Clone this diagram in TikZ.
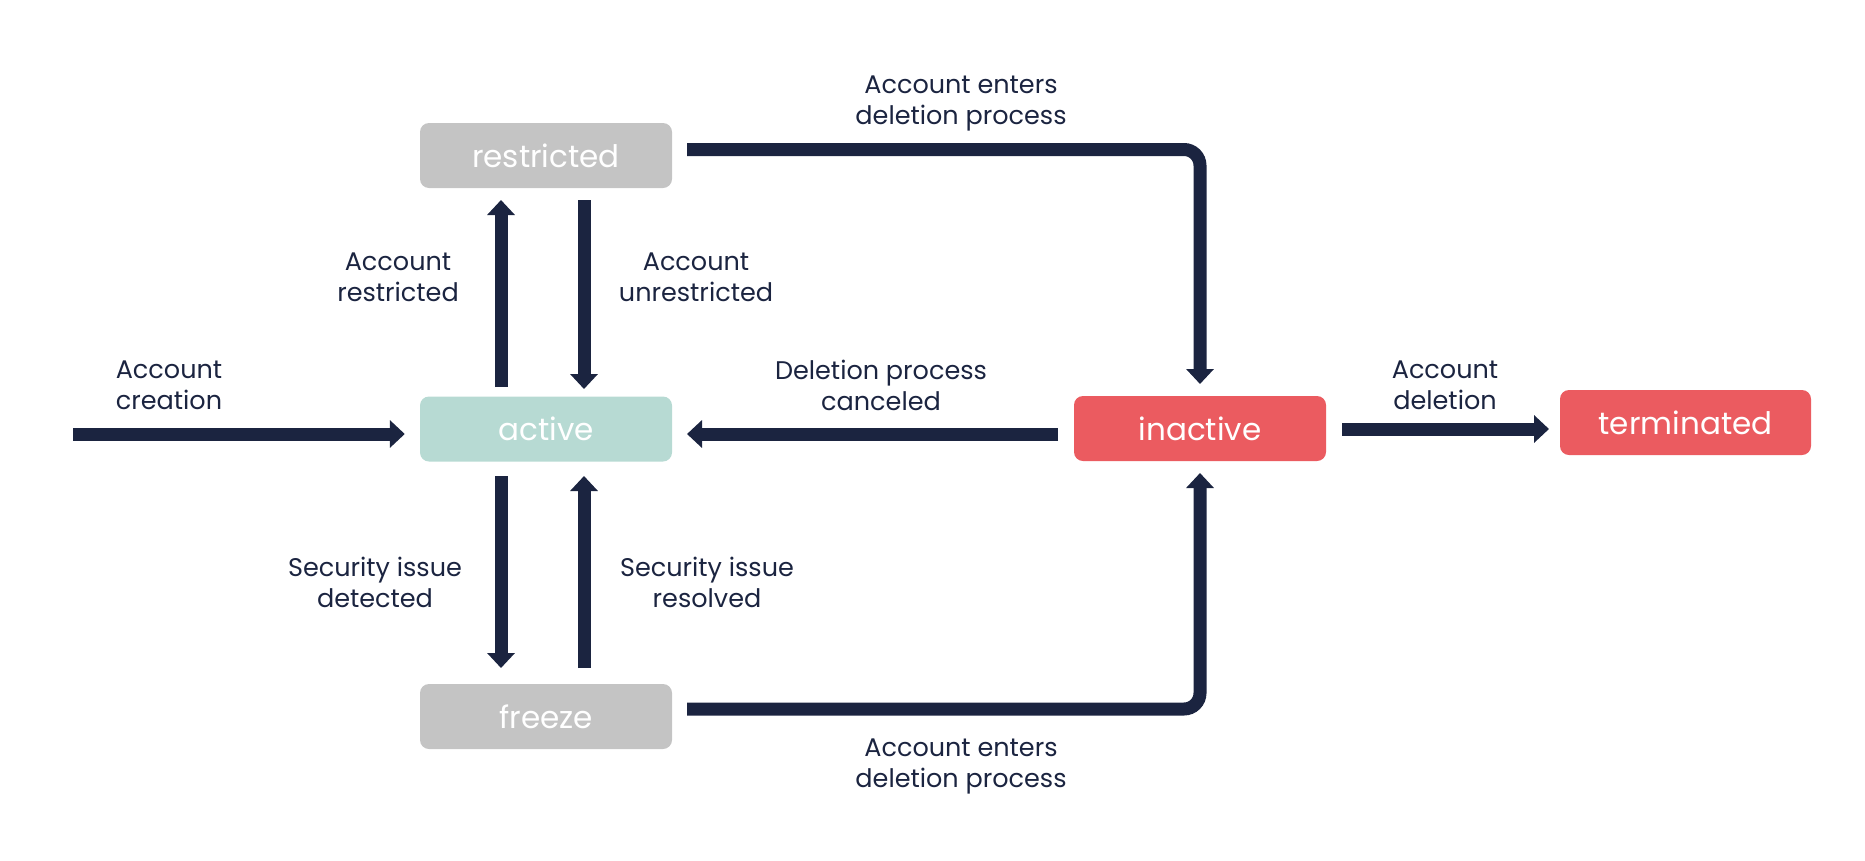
\documentclass[tikz,border=0pt]{standalone}
\usepackage{fontspec}
\setmainfont{Poppins}
\usetikzlibrary{arrows.meta}
\definecolor{navy}{HTML}{1B2440}
\definecolor{greybox}{HTML}{C4C4C4}
\definecolor{tealbox}{HTML}{B7DAD3}
\definecolor{redbox}{HTML}{EB5B60}
\tikzset{
  statebox/.style={rounded corners=9pt, minimum width=252pt, minimum height=65pt, inner sep=0pt, text=white, font=\fontsize{31}{34}\selectfont},
  lbl/.style={text=navy, align=center, font=\fontsize{25.5}{31}\selectfont, inner sep=0pt},
  conn/.style={draw=navy, line width=13pt, -{Triangle[width=27pt,length=15pt]}},
}
\begin{document}
\begin{tikzpicture}[x=1pt,y=-1pt]
\useasboundingbox (0,0) rectangle (1865,860);
\node[statebox, fill=greybox] (restricted) at (546,155.5) {restricted};
\node[statebox, fill=tealbox] (active) at (546,429) {active};
\node[statebox, fill=greybox] (freeze) at (546,716.5) {freeze};
\node[statebox, fill=redbox] (inactive) at (1200,428.5) {inactive};
\node[statebox, fill=redbox, minimum width=251pt] (terminated) at (1685.5,422.5) {terminated};

\coordinate (start) at (73,434);
\draw[conn, shorten >=15pt] (start) -- (active.west |- start);

\draw[conn] (501,387) -- (501,200);
\draw[conn] (584,200) -- (584,389);
\draw[conn] (501,476) -- (501,668);
\draw[conn] (584,668) -- (584,476);
\draw[conn] (1058,434) -- (687,434);
\draw[conn] (1342,429) -- (1549,429);
\draw[conn, rounded corners=16pt] (687,149.5) -- (1200,149.5) -- (1200,384);
\draw[conn, rounded corners=16pt] (687,709) -- (1200,709) -- (1200,473);

\node[lbl] (l1) at (961,103) {Account enters\\deletion process};
\node[lbl] (l2) at (398,277) {Account\\restricted};
\node[lbl] (l3) at (696,277) {Account\\unrestricted};
\node[lbl] (l4) at (169,385) {Account\\creation};
\node[lbl] (l5) at (881,385) {Deletion process\\canceled};
\node[lbl] (l6) at (1445,385) {Account\\deletion};
\node[lbl] (l7) at (375,582) {Security issue\\detected};
\node[lbl] (l8) at (707,582) {Security issue\\resolved};
\node[lbl] (l9) at (961,766) {Account enters\\deletion process};
\end{tikzpicture}
\end{document}
